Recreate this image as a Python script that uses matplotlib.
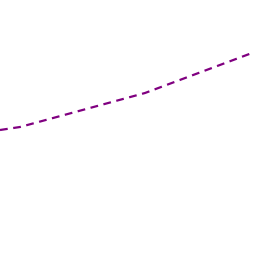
import matplotlib
matplotlib.use("Agg")
from matplotlib import pyplot as plt

x_vals = [0, 20, 145, 252]
y_vals = [126, 129, 163, 203]

fig = plt.figure(figsize=(2.56, 2.56), dpi=100)
ax = fig.add_axes([0, 0, 1, 1])
ax.plot(x_vals, y_vals, color='#800080', linewidth=1.6, linestyle=(0, (3.5, 2.5)))
ax.set_xlim(0, 256)
ax.set_ylim(0, 256)
ax.axis('off')
fig.savefig('out.png', dpi=100)
